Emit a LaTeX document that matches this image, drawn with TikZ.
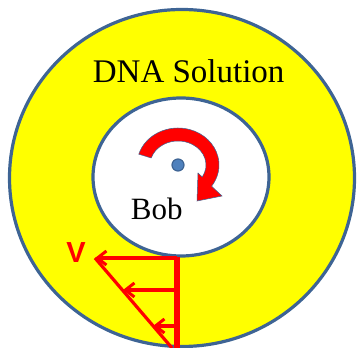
\documentclass[tikz,border=0pt]{standalone}
\usepackage{fontspec}
\setmainfont{Liberation Serif}
\newfontfamily\vfont{Liberation Sans}
\usetikzlibrary{arrows.meta,calc}
\definecolor{rimblue}{HTML}{3E6494}
\definecolor{dotblue}{HTML}{4F81BD}
\definecolor{solyellow}{HTML}{FFFF00}
\tikzset{
  rim/.style={draw=rimblue, line width=3.2pt},
  flow/.style={draw=red, line width=3.2pt},
  flowarrow/.style={flow, -{Straight Barb[length=9pt,width=14pt,line width=3pt]}},
}
\begin{document}
\begin{tikzpicture}[x=1pt,y=1pt]
\useasboundingbox (0,0) rectangle (357,348);
% outer solution ring
\draw[rim, fill=solyellow] (182,170) ellipse [x radius=172.5, y radius=168.5];
% inner bob
\draw[rim, fill=white] (181,171) ellipse [x radius=88, y radius=79];
% centre dot
\node[circle, fill=dotblue, draw=rimblue, line width=1.2pt, minimum size=12pt, inner sep=0pt] (dot) at (178,183) {};
% rotation arrow
\fill[red, draw=rimblue, line width=0.5pt]
  (178,183) ++(163:41 and 37) arc[start angle=163, end angle=-35, x radius=41, y radius=37]
  -- (222,152) -- (197,147) -- (198,175)
  -- ($(178,183)+(-30:28 and 24)$)
  arc[start angle=-30, end angle=163, x radius=28, y radius=24] -- cycle;
% labels
\node[anchor=base, font=\fontsize{33}{36}\selectfont, inner sep=0pt] (sol) at (188.7,265.3) {DNA Solution};
\node[anchor=base, font=\fontsize{31}{34}\selectfont, inner sep=0pt] (bob) at (156.7,128.7) {Bob};
\node[text=red, font=\vfont\bfseries\fontsize{29}{31}\selectfont, inner sep=0pt] (v) at (76,95.5) {V};
% velocity profile
\coordinate (wtop) at (177,91);
\coordinate (wbot) at (177,0);
\coordinate (a1) at (177,90);
\coordinate (a2) at (177,58);
\coordinate (a3) at (177,22);
\coordinate (t1) at (95,90);
\coordinate (t2) at (123,58);
\coordinate (t3) at (153,22);
\coordinate (dend) at (172,0);
\draw[draw=red, line width=5.5pt] (wtop) -- (wbot);
\draw[flow] (t1) -- (dend);
\draw[flowarrow] (a1) -- (t1);
\draw[flowarrow] (a2) -- (t2);
\draw[flowarrow] (a3) -- (t3);
\end{tikzpicture}
\end{document}
